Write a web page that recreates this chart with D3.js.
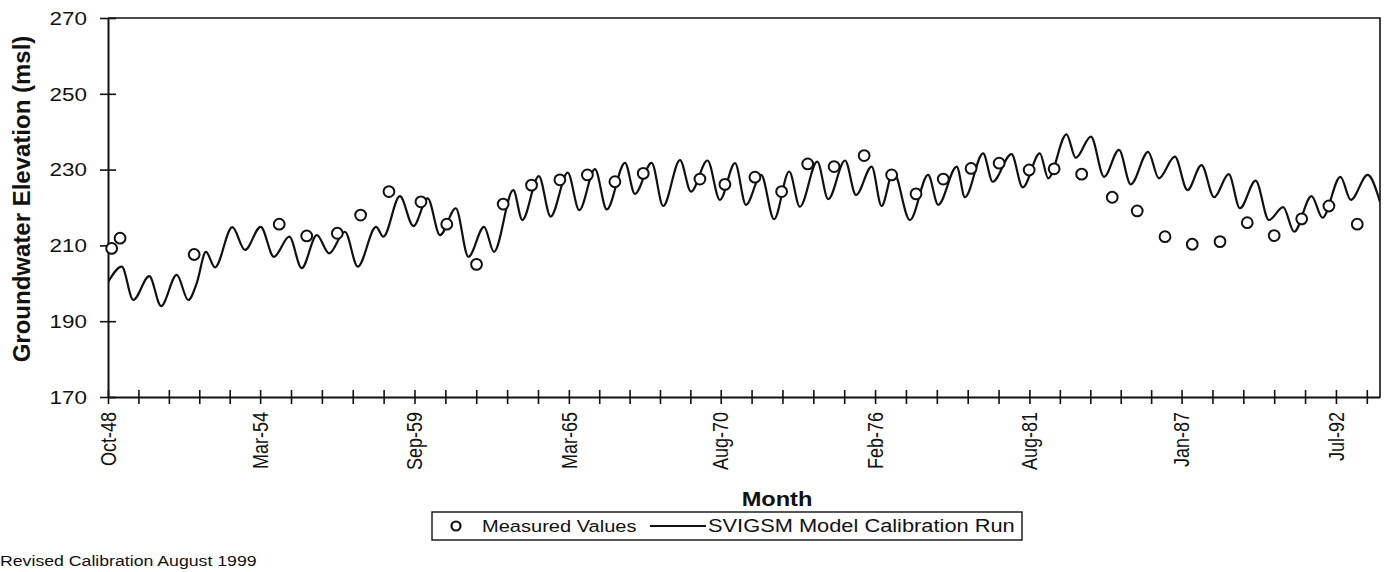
<!DOCTYPE html>
<html><head><meta charset="utf-8">
<script src="https://cdn.jsdelivr.net/npm/d3@7"></script>
<style>
html,body{margin:0;padding:0;background:#fff;}
svg{display:block;}
text{font-family:"Liberation Sans",Arial,Helvetica,sans-serif;fill:#111;}
</style></head><body>
<svg id="chart" width="1390" height="572"></svg>
<script>
// ---- data (decimal years) ----
const lineYears = [1948.76,1949.24,1949.65,1950.22,1950.64,1951.20,1951.61,1951.91,1952.24,1952.56,1953.18,1953.63,1954.19,1954.66,1955.21,1955.65,1956.19,1956.63,1957.19,1957.65,1958.30,1958.56,1959.15,1959.63,1960.14,1960.58,1961.14,1961.59,1962.15,1962.50,1963.19,1963.51,1964.10,1964.52,1965.13,1965.54,1966.10,1966.52,1967.17,1967.52,1968.12,1968.53,1969.13,1969.52,1970.11,1970.55,1971.09,1971.48,1972.02,1972.48,1973.02,1973.40,1974.02,1974.41,1975.01,1975.40,1975.96,1976.31,1976.73,1977.32,1977.97,1978.33,1978.99,1979.28,1979.93,1980.27,1980.94,1981.34,1981.95,1982.25,1982.90,1983.23,1983.77,1984.24,1984.77,1985.19,1985.81,1986.19,1986.76,1987.21,1987.71,1988.16,1988.68,1989.08,1989.64,1990.11,1990.62,1991.01,1991.63,1992.02,1992.66,1993.03,1993.63,1994.07];
const lineValues = [200.4,204.4,195.6,201.9,194.0,202.2,195.6,200.0,208.3,204.2,214.8,208.8,214.9,207.0,212.3,204.0,212.7,207.9,213.6,204.4,214.9,212.3,223.0,215.1,222.4,212.7,219.8,207.0,214.9,208.3,224.6,216.7,228.3,217.6,229.2,219.3,230.1,219.5,231.8,223.6,231.8,220.4,232.5,224.2,232.4,222.0,231.7,220.7,228.6,216.9,229.5,220.2,232.1,222.2,232.4,223.3,230.8,220.4,229.5,216.7,228.6,220.7,230.8,222.7,234.3,226.8,234.1,225.3,234.3,227.7,239.3,233.1,238.7,228.1,235.2,226.1,234.7,227.7,233.4,224.6,231.2,222.7,228.8,219.8,227.1,216.7,220.1,213.6,223.0,217.3,228.1,222.0,228.6,221.5];
const measYears = [1948.88,1949.18,1951.82,1954.85,1955.83,1956.92,1957.75,1958.76,1959.90,1960.82,1961.88,1962.83,1963.84,1964.85,1965.83,1966.81,1967.82,1969.84,1970.73,1971.80,1972.75,1973.68,1974.62,1975.69,1976.67,1977.54,1978.51,1979.50,1980.50,1981.57,1982.46,1983.44,1984.53,1985.42,1986.41,1987.38,1988.37,1989.34,1990.30,1991.28,1992.25,1993.26];
const measValues = [209.2,211.9,207.6,215.6,212.5,213.2,218.0,224.2,221.5,215.6,205.0,220.9,225.9,227.3,228.6,226.8,229.0,227.5,226.1,228.0,224.2,231.5,230.8,233.7,228.6,223.6,227.5,230.3,231.7,229.9,230.2,228.8,222.7,219.1,212.3,210.3,211.0,216.0,212.6,217.0,220.4,215.6];
const xTickLabels = ["Oct-48","Mar-54","Sep-59","Mar-65","Aug-70","Feb-76","Aug-81","Jan-87","Jul-92"];
const xTickYears = [1948.75,1954.17,1959.67,1965.17,1970.58,1976.08,1981.58,1987.00,1992.50];
const yTicks = [170,190,210,230,250,270];
const seriesNames = ["Measured Values","SVIGSM Model Calibration Run"];
const axisTitles = {x:"Month", y:"Groundwater Elevation (msl)"};
const footnote = "Revised Calibration August 1999";

// ---- layout ----
const L=108, R=1380, T=18, B=397, SX=1.18;
const svg = d3.select("#chart");
const x = d3.scaleLinear().domain([1948.75,1994.07]).range([L,R]);
const y = d3.scaleLinear().domain([170,270]).range([B,T]);

function stext(px, py, str, o){
  o = o||{};
  const sx = o.sx!==undefined ? o.sx : SX;
  const t = svg.append("text")
    .attr("transform", `translate(${px},${py}) scale(${sx},1)` + (o.rot?" rotate(-90)":""))
    .attr("text-anchor", o.anchor||"start")
    .style("font-size", (o.size||18)+"px")
    .style("font-weight", o.bold?"bold":"normal")
    .text(str);
  if(o.dy) t.attr("dy", o.dy);
  return t;
}

// frame (top & right)
svg.append("path").attr("d",`M${L},${T}H${R}V${B}`).attr("fill","none").attr("stroke","#111").attr("stroke-width",1.6);

// minor x ticks: subdivide each label interval into 5
const minor = [];
for(let i=0;i<xTickYears.length-1;i++){
  const a=xTickYears[i], b=xTickYears[i+1];
  for(let k=0;k<5;k++) minor.push(a+(b-a)*k/5);
}
const lastStep=(xTickYears[8]-xTickYears[7])/5;
minor.push(xTickYears[8]);
minor.push(xTickYears[8]+lastStep);

const gx = svg.append("g").attr("transform",`translate(0,${B})`)
  .call(d3.axisBottom(x).tickValues(minor).tickSize(7).tickFormat("").tickSizeOuter(0));
gx.select(".domain").attr("stroke","#111").attr("stroke-width",2);
gx.selectAll(".tick line").attr("y1",-7).attr("y2",7).attr("stroke","#111").attr("stroke-width",1.6);

const gy = svg.append("g").attr("transform",`translate(${L},0)`)
  .call(d3.axisLeft(y).tickValues(yTicks).tickSize(8).tickFormat("").tickSizeOuter(0));
gy.select(".domain").attr("stroke","#111").attr("stroke-width",2);
gy.selectAll(".tick line").attr("x1",-8).attr("x2",8).attr("stroke","#111").attr("stroke-width",1.6);

// y labels
yTicks.forEach(v=> stext(L-21, y(v), String(v), {anchor:"end", size:19, dy:"0.36em"}));
// x labels
xTickLabels.forEach((s,i)=> stext(x(xTickYears[i]), B+15, s, {anchor:"end", size:18, rot:true, dy:"0.36em"}));

// titles
stext(21, 199, axisTitles.y, {anchor:"middle", size:24, bold:true, rot:true, dy:"0.36em", sx:1.0});
stext(777, 506, axisTitles.x, {anchor:"middle", size:20, bold:true});
stext(0, 566, footnote, {anchor:"start", size:15});

// clip
svg.append("clipPath").attr("id","clip").append("rect").attr("x",L).attr("y",T).attr("width",R-L).attr("height",B-T);

// model line
const lineData = lineYears.map((t,i)=>({t, v:lineValues[i]}));
svg.append("path").datum(lineData)
  .attr("clip-path","url(#clip)")
  .attr("fill","none").attr("stroke","#111").attr("stroke-width",2.2).attr("stroke-linejoin","round")
  .attr("d", d3.line().x(d=>x(d.t)).y(d=>y(d.v)).curve(d3.curveMonotoneX));

// measured markers
const measData = measYears.map((t,i)=>({t, v:measValues[i]}));
svg.append("g").selectAll("circle").data(measData).join("circle")
  .attr("cx",d=>x(d.t)).attr("cy",d=>y(d.v)).attr("r",5.4)
  .attr("fill","#fff").attr("stroke","#111").attr("stroke-width",2);

// legend
const lg = svg.append("g");
lg.append("rect").attr("x",432).attr("y",512).attr("width",590).attr("height",28)
  .attr("fill","#fff").attr("stroke","#111").attr("stroke-width",1.4);
lg.append("circle").attr("cx",456).attr("cy",526).attr("r",4.5).attr("fill","#fff").attr("stroke","#111").attr("stroke-width",2.2);
stext(482, 532, seriesNames[0], {size:17});
lg.append("line").attr("x1",650).attr("x2",706).attr("y1",526).attr("y2",526).attr("stroke","#111").attr("stroke-width",2);
stext(708, 532, seriesNames[1], {size:18.5});
</script>
</body></html>
